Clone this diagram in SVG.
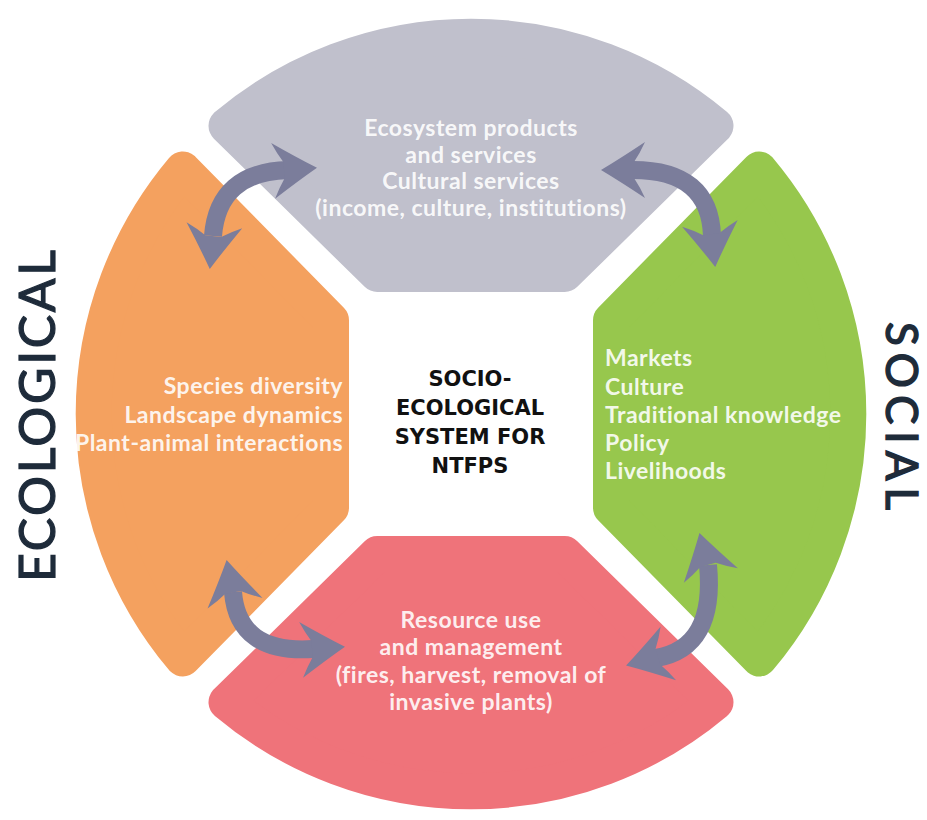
<svg xmlns="http://www.w3.org/2000/svg" xmlns:xlink="http://www.w3.org/1999/xlink" width="927" height="820" viewBox="0 0 927 820">
  <defs>
    <style>
      .sector { stroke-width: 36; stroke-linejoin: round; }
      .lbl { font-family: Lato, "Liberation Sans", sans-serif; font-weight: 700; font-size: 23px; letter-spacing: 0.5px; fill: #ffffff; fill-opacity: 0.9; }
      .mid { text-anchor: middle; }
      .center { font-family: "DejaVu Sans", "Liberation Sans", sans-serif; font-weight: 700; font-size: 21px; fill: #111111; text-anchor: middle; }
      .side { font-family: Lato, "Liberation Sans", sans-serif; font-weight: 400; font-size: 50px; fill: #1e2b3a; stroke: #1e2b3a; stroke-width: 1.2; text-anchor: middle; }
      .side2 { font-family: Lato, "Liberation Sans", sans-serif; font-weight: 400; font-size: 44px; fill: #1e2b3a; stroke: #1e2b3a; stroke-width: 1.4; text-anchor: middle; }
      .shaft { fill: none; stroke: #7b7d9b; stroke-width: 18; stroke-linecap: butt; }
      .head { fill: #7b7d9b; }
    </style>
    <path id="sectorShape" d="M226.5,125.8 A380,380 0 0 1 715.5,125.8 L564.7,274 L377.3,274 Z"/>
    <path id="arrowHead" d="M2,0 Q-18,-12 -42,-28 Q-37,-17 -31,-8 L-31,8 Q-37,17 -42,28 Q-18,12 2,0 Z"/>
  </defs>

  <rect width="927" height="820" fill="#ffffff"/>

  <g id="node-top">
    <use xlink:href="#sectorShape" class="sector" fill="#c0c0cc" stroke="#c0c0cc"/>
    <text class="lbl mid" x="471" y="136">Ecosystem products</text>
    <text class="lbl mid" x="471" y="163">and services</text>
    <text class="lbl mid" x="471" y="189">Cultural services</text>
    <text class="lbl mid" x="471" y="216">(income, culture, institutions)</text>
  </g>

  <g id="node-left">
    <use xlink:href="#sectorShape" class="sector" fill="#f4a15f" stroke="#f4a15f" transform="rotate(-90 471 414)"/>
    <text class="lbl" text-anchor="end" x="343" y="394">Species diversity</text>
    <text class="lbl" text-anchor="end" x="343" y="423">Landscape dynamics</text>
    <text class="lbl" text-anchor="end" x="343" y="451">Plant-animal interactions</text>
  </g>

  <g id="node-right">
    <use xlink:href="#sectorShape" class="sector" fill="#97c74d" stroke="#97c74d" transform="rotate(90 471 414)"/>
    <text class="lbl" x="605" y="366">Markets</text>
    <text class="lbl" x="605" y="395">Culture</text>
    <text class="lbl" x="605" y="423">Traditional knowledge</text>
    <text class="lbl" x="605" y="451">Policy</text>
    <text class="lbl" x="605" y="479">Livelihoods</text>
  </g>

  <g id="node-bottom">
    <use xlink:href="#sectorShape" class="sector" fill="#ef737a" stroke="#ef737a" transform="rotate(180 471 414)"/>
    <text class="lbl mid" x="471" y="628">Resource use</text>
    <text class="lbl mid" x="471" y="655">and management</text>
    <text class="lbl mid" x="471" y="683">(fires, harvest, removal of</text>
    <text class="lbl mid" x="471" y="710">invasive plants)</text>
  </g>

  <g id="node-center">
    <text class="center" x="470" y="386">SOCIO-</text>
    <text class="center" x="470" y="415">ECOLOGICAL</text>
    <text class="center" x="470" y="444">SYSTEM FOR</text>
    <text class="center" x="470" y="473">NTFPS</text>
  </g>

  <g id="label-ecological">
    <text class="side" transform="translate(55 416) rotate(-90)" textLength="332" lengthAdjust="spacing">ECOLOGICAL</text>
  </g>
  <g id="label-social">
    <text class="side2" transform="translate(886 416) rotate(90)" textLength="188" lengthAdjust="spacing">SOCIAL</text>
  </g>

  <g id="connectors">
    <path class="shaft" d="M213,236 Q218,172 288,170"/>
    <use xlink:href="#arrowHead" class="head" transform="translate(210 267) rotate(96)"/>
    <use xlink:href="#arrowHead" class="head" transform="translate(315 168) rotate(-4)"/>

    <path class="shaft" d="M633,170 Q710,170 712,236"/>
    <use xlink:href="#arrowHead" class="head" transform="translate(603 170) rotate(180)"/>
    <use xlink:href="#arrowHead" class="head" transform="translate(715 265) rotate(83)"/>

    <path class="shaft" d="M233,592 Q238,654 313,649"/>
    <use xlink:href="#arrowHead" class="head" transform="translate(227 562) rotate(-101)"/>
    <use xlink:href="#arrowHead" class="head" transform="translate(343 647) rotate(-4)"/>

    <path class="shaft" d="M708,565 Q716,648 656,658"/>
    <use xlink:href="#arrowHead" class="head" transform="translate(700 535) rotate(-105)"/>
    <use xlink:href="#arrowHead" class="head" transform="translate(628 665) rotate(164)"/>
  </g>
</svg>
